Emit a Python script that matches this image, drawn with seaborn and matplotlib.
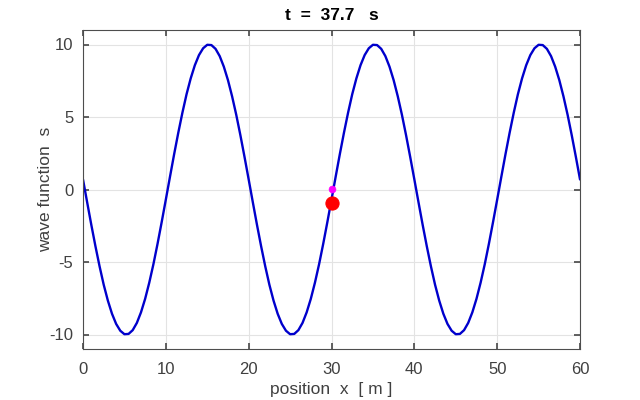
"""
Travelling wave snapshot at t = 37.7 s
"""

import numpy as np
import pandas as pd
import seaborn as sns
import matplotlib
matplotlib.use("Agg")
import matplotlib.pyplot as plt

# wave displacement, every half metre (x = 0 .. 60)
position = [i * 0.5 for i in range(121)]
half_a = [0.69, -0.88, -2.43, -3.91, -5.30, -6.57, -7.66, -8.57, -9.27, -9.74,
          -9.98, -9.96, -9.70, -9.20, -8.47, -7.54, -6.42, -5.15, -3.74, -2.24]
half_b = [-0.69, 0.88, 2.43, 3.91, 5.30, 6.57, 7.66, 8.57, 9.27, 9.74,
          9.98, 9.96, 9.70, 9.20, 8.47, 7.54, 6.42, 5.15, 3.74, 2.24]
wave_s = half_a + half_b + half_a + half_b + half_a + half_b + [0.69]

# the two markers at x = 30
marker_x = [30, 30]
marker_s = [-0.9, 0.05]

xticks = [0, 10, 20, 30, 40, 50, 60]
yticks = [-10, -5, 0, 5, 10]

wave = pd.DataFrame({"x": position, "s": wave_s})

sns.set_theme(style="white")
plt.rcParams["font.family"] = ["Liberation Sans", "DejaVu Sans"]
plt.rcParams["axes.unicode_minus"] = False

fig = plt.figure(figsize=(6.4, 4.0), dpi=100)
ax = fig.add_axes([0.1297, 0.1275, 0.7766, 0.7975])

sns.lineplot(data=wave, x="x", y="s", color="#0000cc", linewidth=1.7, ax=ax)
sns.scatterplot(x=[marker_x[0]], y=[marker_s[0]], color="#ff0000", s=90,
                edgecolor="#ff0000", ax=ax, zorder=5)
sns.scatterplot(x=[marker_x[1]], y=[marker_s[1]], color="#ff00ff", s=25,
                edgecolor="#ff00ff", ax=ax, zorder=5)

ax.set_xlim(0, 60)
ax.set_ylim(-11, 11)
ax.set_xticks(xticks)
ax.set_yticks(yticks)
ax.grid(True, color="#e3e3e3", linewidth=0.8)
ax.set_axisbelow(True)

for sp in ax.spines.values():
    sp.set_visible(True)
    sp.set_color("#4d4d4d")
    sp.set_linewidth(0.8)
ax.tick_params(direction="in", length=4, colors="#4d4d4d", labelsize=12,
               labelcolor="#404040", top=True, right=True, bottom=True, left=True,
               pad=7)
ax.tick_params(axis="x", pad=9)

ax.set_xlabel("position  x  [ m ]", fontsize=12.5, color="#404040", labelpad=4)
ax.set_ylabel("wave function  s", fontsize=12.5, color="#404040", labelpad=-3)
ax.set_title("t  =  37.7   s", fontsize=12.5, fontweight="bold", color="black", pad=7)

fig.savefig("out.png", dpi=100)
